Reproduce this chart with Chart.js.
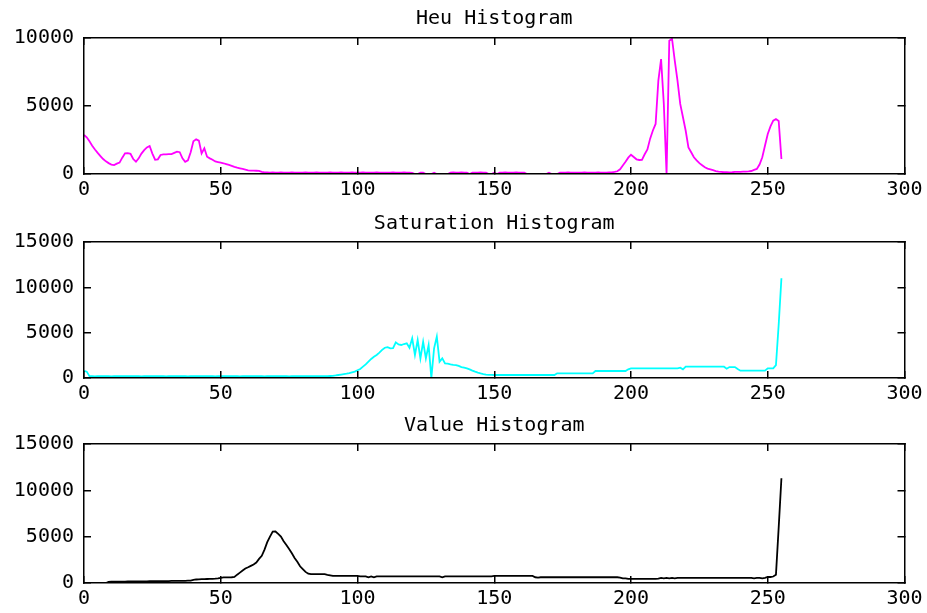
<!DOCTYPE html>
<html>
<head>
<meta charset="utf-8">
<title>HSV Histograms</title>
<script src="https://cdn.jsdelivr.net/npm/chart.js@4.4.0/dist/chart.umd.min.js"></script>
<style>
  html, body { margin: 0; padding: 0; background: #fff; overflow: hidden; }
  canvas { position: absolute; left: 0; }
</style>
</head>
<body>
<canvas id="heuChart" width="927" height="204" style="top:0px"></canvas>
<canvas id="satChart" width="927" height="204" style="top:204px"></canvas>
<canvas id="valChart" width="927" height="205" style="top:408px"></canvas>
<script>
// histogram bins 0..255
const bins = Array.from({ length: 256 }, (_, i) => i);

const xTickValues = [0, 50, 100, 150, 200, 250, 300];
const heuYTicks = [0, 5000, 10000];
const satYTicks = [0, 5000, 10000, 15000];
const valYTicks = [0, 5000, 10000, 15000];

// Heu (hue) counts per bin
const heuCounts = [
  2870, 2700, 2400, 2080, 1800, 1550, 1320, 1100, 930, 800, 690, 660, 760, 840, 1200, 1520,
  1540, 1480, 1100, 900, 1150, 1500, 1750, 1950, 2060, 1500, 1050, 1080, 1400, 1450, 1450, 1460,
  1460, 1550, 1640, 1600, 1150, 900, 1000, 1600, 2400, 2550, 2450, 1520, 1890, 1270, 1150, 1050,
  920, 880, 840, 790, 730, 670, 600, 530, 470, 420, 370, 320, 270, 250, 245, 240,
  235, 160, 120, 110, 100, 110, 100, 100, 110, 100, 100, 100, 110, 100, 100, 100,
  100, 110, 100, 100, 100, 110, 100, 100, 100, 100, 110, 100, 100, 100, 110, 100,
  100, 100, 110, 100, 100, 100, 110, 100, 100, 100, 100, 110, 100, 100, 100, 100,
  100, 110, 100, 100, 100, 110, 100, 100, 90, 0, 0, 100, 100, 0, 0, 0,
  100, 0, 0, 0, 0, 0, 100, 110, 100, 100, 110, 100, 100, 0, 100, 100,
  100, 110, 100, 100, 0, 0, 100, 0, 100, 100, 110, 100, 100, 100, 110, 100,
  100, 100, 0, 0, 0, 0, 0, 0, 0, 0, 100, 0, 0, 0, 100, 100,
  100, 110, 100, 100, 100, 100, 100, 110, 100, 100, 100, 100, 110, 100, 100, 100,
  110, 120, 150, 200, 350, 620, 900, 1200, 1420, 1250, 1080, 1030, 1040, 1450, 1800, 2600,
  3200, 3680, 6860, 8450, 5150, 0, 9800, 9950, 8330, 6860, 5150, 4170, 3180, 1960, 1600, 1230,
  1000, 800, 650, 500, 400, 340, 280, 220, 170, 160, 130, 140, 120, 130, 150, 150,
  160, 170, 170, 190, 220, 300, 370, 700, 1230, 2100, 2940, 3500, 3920, 4040, 3900, 1100
];

// Saturation counts per bin
const satCounts = [
  800, 700, 200, 200, 190, 200, 200, 210, 200, 200, 190, 200, 200, 200, 210, 200,
  200, 200, 210, 200, 200, 190, 200, 200, 200, 210, 200, 200, 200, 200, 190, 200,
  200, 210, 200, 200, 200, 200, 190, 200, 200, 200, 210, 200, 200, 200, 200, 200,
  190, 200, 200, 200, 210, 200, 200, 200, 200, 190, 200, 200, 200, 210, 200, 200,
  200, 200, 190, 200, 200, 200, 210, 200, 200, 200, 200, 190, 200, 200, 200, 200,
  200, 200, 210, 200, 200, 200, 200, 210, 200, 200, 220, 240, 280, 330, 380, 430,
  480, 540, 620, 700, 850, 1000, 1250, 1500, 1800, 2100, 2350, 2540, 2800, 3100, 3340, 3400,
  3270, 3300, 3930, 3700, 3640, 3750, 3820, 3340, 4380, 2540, 4190, 2170, 4000, 2170, 3640, 0,
  3270, 4560, 1800, 2170, 1620, 1580, 1500, 1450, 1430, 1330, 1200, 1140, 1070, 950, 820, 700,
  590, 500, 430, 380, 350, 340, 330, 330, 330, 330, 330, 330, 330, 330, 330, 330,
  330, 330, 330, 330, 330, 330, 330, 330, 330, 330, 330, 330, 330, 515, 515, 515,
  515, 515, 515, 515, 515, 515, 515, 515, 515, 515, 515, 770, 770, 770, 770, 770,
  770, 770, 770, 770, 770, 770, 770, 955, 1070, 1070, 1070, 1070, 1070, 1070, 1070, 1070,
  1070, 1070, 1070, 1070, 1070, 1070, 1070, 1070, 1070, 1070, 1140, 955, 1250, 1250, 1250, 1250,
  1250, 1250, 1250, 1250, 1250, 1250, 1250, 1250, 1250, 1250, 1250, 1030, 1210, 1210, 1210, 1000,
  810, 810, 810, 810, 810, 810, 810, 810, 810, 810, 1070, 1070, 1070, 1430, 5900, 11000
];

// Value counts per bin
const valCounts = [
  0, 0, 0, 0, 0, 0, 0, 0, 0, 110, 150, 150, 150, 150, 150, 150,
  160, 160, 170, 170, 170, 180, 180, 180, 190, 190, 190, 200, 200, 200, 210, 210,
  220, 220, 230, 230, 240, 240, 250, 260, 330, 380, 400, 410, 420, 430, 440, 450,
  470, 500, 560, 600, 600, 600, 620, 650, 900, 1120, 1350, 1560, 1700, 1850, 2000, 2210,
  2600, 2930, 3600, 4400, 5000, 5540, 5560, 5300, 5000, 4500, 4100, 3660, 3200, 2700, 2300, 1800,
  1500, 1200, 1000, 950, 950, 950, 950, 950, 950, 880, 830, 760, 760, 760, 760, 760,
  760, 760, 760, 760, 760, 720, 720, 720, 620, 720, 620, 720, 720, 720, 720, 720,
  720, 720, 720, 720, 720, 720, 720, 720, 720, 720, 720, 720, 720, 720, 720, 720,
  720, 720, 720, 620, 720, 720, 720, 720, 720, 720, 720, 720, 720, 720, 720, 720,
  720, 720, 720, 720, 720, 720, 760, 760, 760, 760, 760, 760, 760, 760, 760, 760,
  760, 760, 760, 760, 760, 620, 580, 620, 620, 620, 620, 620, 620, 620, 620, 620,
  620, 620, 620, 620, 620, 620, 620, 620, 620, 620, 620, 620, 620, 620, 620, 620,
  620, 620, 620, 620, 580, 500, 500, 450, 450, 450, 450, 450, 450, 450, 450, 450,
  450, 450, 470, 550, 500, 550, 500, 550, 500, 550, 550, 550, 550, 550, 550, 550,
  550, 550, 550, 550, 550, 550, 550, 550, 550, 550, 550, 550, 550, 550, 550, 550,
  550, 550, 550, 550, 550, 500, 550, 550, 500, 550, 650, 650, 700, 900, 6000, 11300
];

const textFont = { family: 'DejaVu Sans Mono', size: 20, weight: 'normal' };

// plain numbers, no thousands separator
const plainLabel = v => String(v);

// keep the plot box fixed: labels may overflow into the margins
function noOverflow(s) {
  s.paddingLeft = 0;
  s.paddingRight = 0;
  s.paddingTop = 0;
  s.paddingBottom = 0;
}

// box with inward tick marks on all four sides, drawn over the data
function boxScales(xTicks, yTicks) {
  const edge = { color: '#000', width: 1.5, z: 1 };
  const marks = { drawOnChartArea: false, drawTicks: true, tickLength: -7, color: '#000', lineWidth: 1.5, z: 1 };
  const xRange = {
    type: 'linear', min: xTicks[0], max: xTicks[xTicks.length - 1],
    afterBuildTicks: s => { s.ticks = xTicks.map(v => ({ value: v })); }
  };
  const yRange = {
    type: 'linear', min: yTicks[0], max: yTicks[yTicks.length - 1],
    afterBuildTicks: s => { s.ticks = yTicks.map(v => ({ value: v })); }
  };
  return {
    x: {
      ...xRange, position: 'bottom', border: edge, grid: marks,
      ticks: { font: textFont, color: '#000', padding: 11, maxRotation: 0, autoSkip: false, callback: plainLabel },
      afterFit: s => { s.height = 30; noOverflow(s); }
    },
    xTop: {
      ...xRange, position: 'top', border: edge, grid: marks,
      ticks: { display: false },
      afterFit: s => { s.height = 0; noOverflow(s); }
    },
    y: {
      ...yRange, position: 'left', border: edge, grid: marks,
      ticks: { font: textFont, color: '#000', padding: 17, callback: plainLabel },
      afterFit: s => { s.width = 84; noOverflow(s); }
    },
    yRight: {
      ...yRange, position: 'right', border: edge, grid: marks,
      ticks: { display: false },
      afterFit: s => { s.width = 0; noOverflow(s); }
    }
  };
}

function histogram(id, title, counts, color, yTicks, padTop, padBottom) {
  new Chart(document.getElementById(id), {
    type: 'line',
    data: {
      labels: bins,
      datasets: [{
        data: counts,
        borderColor: color,
        borderWidth: 1.8,
        pointRadius: 0,
        tension: 0,
        fill: false
      }]
    },
    options: {
      responsive: false,
      animation: false,
      events: [],
      layout: { padding: { left: 0, right: 22.5, top: 0, bottom: 0 } },
      scales: boxScales(xTickValues, yTicks),
      plugins: {
        legend: { display: false },
        tooltip: { enabled: false },
        title: {
          display: true,
          text: title,
          color: '#000',
          font: textFont,
          fullSize: false,
          padding: { top: padTop, bottom: padBottom }
        }
      }
    }
  });
}

histogram('heuChart', 'Heu Histogram', heuCounts, '#ff00ff', heuYTicks, 7, 7);
histogram('satChart', 'Saturation Histogram', satCounts, '#00ffff', satYTicks, 8, 6);
histogram('valChart', 'Value Histogram', valCounts, '#000000', valYTicks, 5.5, 6.5);
</script>
</body>
</html>
